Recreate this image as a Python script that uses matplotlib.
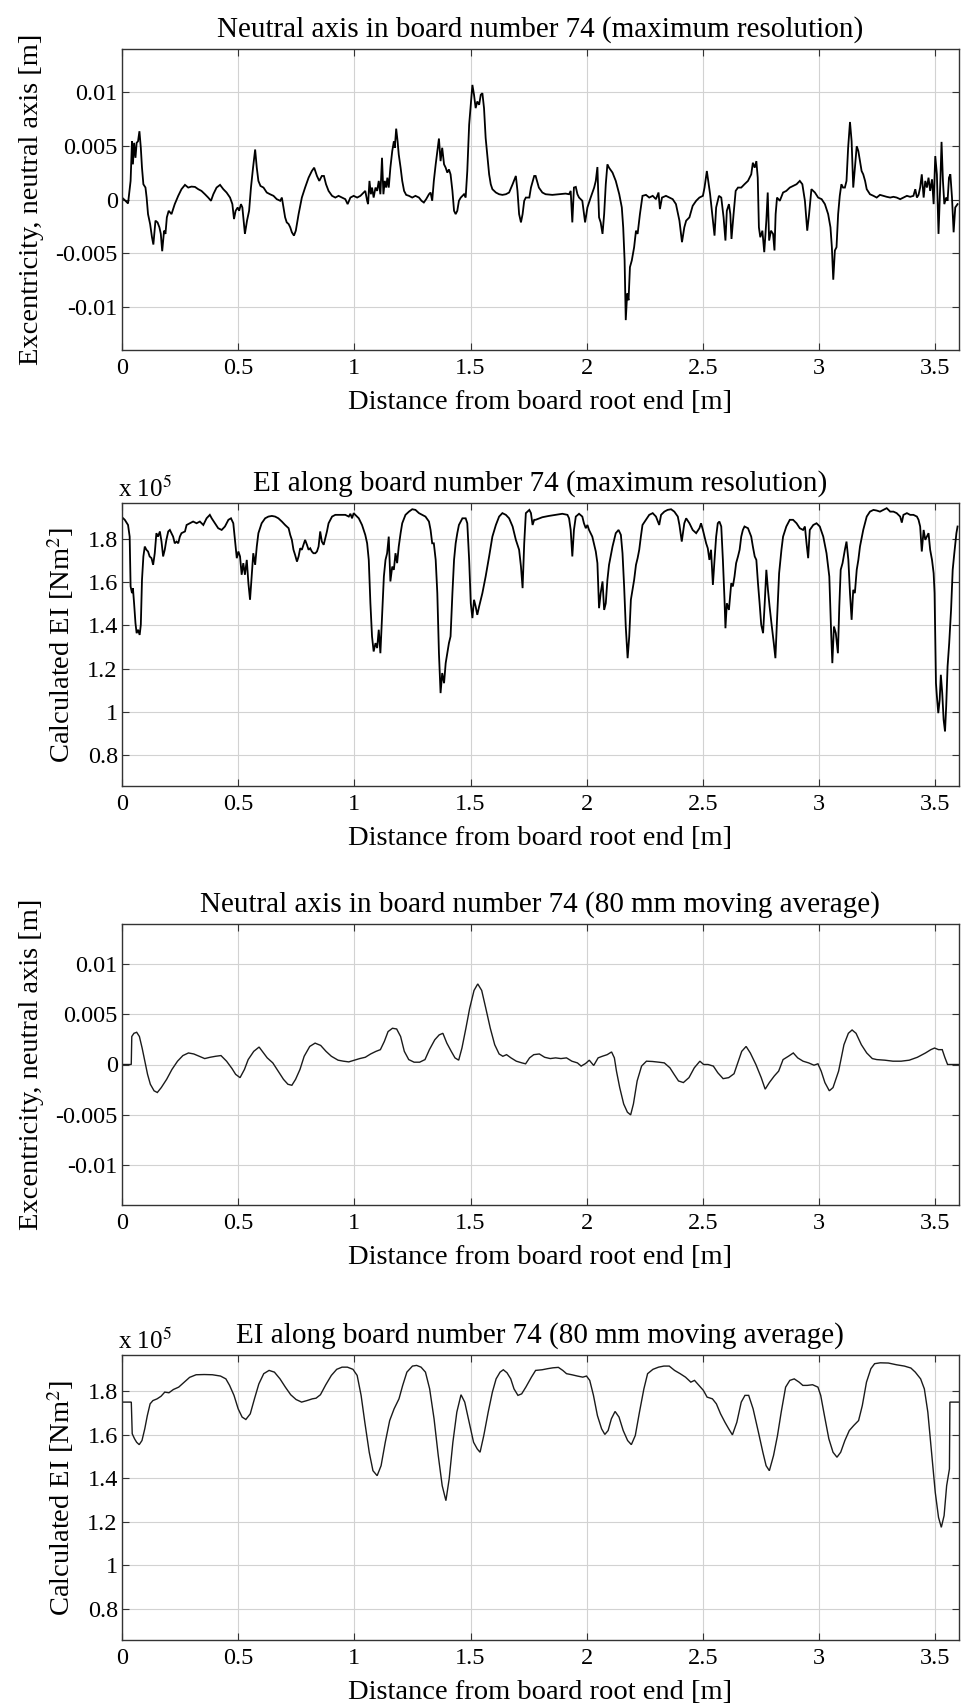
import numpy as np
import matplotlib
matplotlib.use('Agg')
import matplotlib.pyplot as plt
from matplotlib.ticker import FuncFormatter

plt.rcParams['font.family'] = ['Liberation Serif', 'DejaVu Serif']
plt.rcParams['mathtext.fontset'] = 'stix'
plt.rcParams['axes.unicode_minus'] = False

# ---------------- Panel 1: neutral axis, maximum resolution (x in m, eccentricity in mm)
ecc_max_x = [0.000, 0.012, 0.026, 0.037, 0.043, 0.047, 0.052, 0.058, 0.063, 0.069, 0.075, 0.081, 0.086, 0.092, 0.101, 0.106, 0.112, 0.121, 0.129, 0.135, 0.144, 0.153, 0.161, 0.167, 0.173, 0.181, 0.187, 0.193, 0.201, 0.213, 0.227, 0.242, 0.256, 0.271, 0.285, 0.299, 0.314, 0.328, 0.342, 0.357, 0.371, 0.383, 0.393, 0.407, 0.422, 0.436, 0.450, 0.465, 0.475, 0.482, 0.489, 0.498, 0.504, 0.512, 0.518, 0.524, 0.529, 0.538, 0.547, 0.555, 0.564, 0.573, 0.580, 0.587, 0.596, 0.609, 0.623, 0.637, 0.652, 0.666, 0.681, 0.688, 0.695, 0.702, 0.709, 0.717, 0.724, 0.731, 0.740, 0.748, 0.760, 0.774, 0.788, 0.803, 0.817, 0.827, 0.839, 0.849, 0.860, 0.869, 0.878, 0.889, 0.904, 0.918, 0.932, 0.947, 0.961, 0.971, 0.983, 0.997, 1.012, 1.026, 1.040, 1.047, 1.055, 1.059, 1.065, 1.071, 1.076, 1.083, 1.091, 1.098, 1.105, 1.112, 1.119, 1.125, 1.131, 1.137, 1.142, 1.148, 1.155, 1.163, 1.170, 1.174, 1.180, 1.186, 1.191, 1.199, 1.206, 1.214, 1.223, 1.235, 1.249, 1.263, 1.278, 1.289, 1.299, 1.309, 1.321, 1.328, 1.335, 1.342, 1.350, 1.357, 1.364, 1.371, 1.378, 1.386, 1.393, 1.400, 1.407, 1.414, 1.422, 1.429, 1.436, 1.443, 1.450, 1.458, 1.465, 1.472, 1.479, 1.486, 1.494, 1.501, 1.508, 1.515, 1.522, 1.529, 1.537, 1.544, 1.551, 1.558, 1.565, 1.573, 1.580, 1.587, 1.594, 1.609, 1.623, 1.637, 1.652, 1.666, 1.681, 1.695, 1.702, 1.709, 1.717, 1.724, 1.731, 1.738, 1.753, 1.760, 1.774,
             1.780, 1.794, 1.809, 1.823, 1.852, 1.881, 1.909, 1.924, 1.931, 1.938, 1.945, 1.953, 1.960, 1.967, 1.981, 1.993, 2.003, 2.017, 2.032, 2.039, 2.046, 2.053, 2.060, 2.068, 2.075, 2.082, 2.089, 2.096, 2.111, 2.125, 2.140, 2.151, 2.157, 2.163, 2.168, 2.174, 2.180, 2.186, 2.194, 2.204, 2.212, 2.219, 2.229, 2.240, 2.255, 2.269, 2.284, 2.298, 2.309, 2.315, 2.324, 2.341, 2.356, 2.370, 2.384, 2.399, 2.410, 2.420, 2.428, 2.442, 2.456, 2.471, 2.485, 2.500, 2.507, 2.517, 2.525, 2.531, 2.540, 2.550, 2.557, 2.569, 2.579, 2.589, 2.597, 2.603, 2.612, 2.618, 2.623, 2.632, 2.641, 2.651, 2.665, 2.679, 2.694, 2.708, 2.715, 2.723, 2.730, 2.736, 2.741, 2.747, 2.756, 2.764, 2.773, 2.779, 2.785, 2.793, 2.802, 2.808, 2.813, 2.819, 2.831, 2.845, 2.859, 2.874, 2.888, 2.903, 2.917, 2.928, 2.939, 2.949, 2.957, 2.967, 2.982, 2.996, 3.011, 3.025, 3.039, 3.049, 3.055, 3.061, 3.068, 3.075, 3.082, 3.089, 3.096, 3.103, 3.111, 3.118, 3.125, 3.133, 3.140, 3.147, 3.154, 3.162, 3.169, 3.176, 3.183, 3.190, 3.198, 3.205, 3.219, 3.234, 3.248, 3.262, 3.277, 3.291, 3.306, 3.320, 3.334, 3.349, 3.363, 3.378, 3.392, 3.406, 3.414, 3.421, 3.428, 3.435, 3.442, 3.450, 3.457, 3.464, 3.471, 3.478, 3.486, 3.493, 3.500, 3.507, 3.514, 3.522, 3.527, 3.533, 3.539, 3.547, 3.553, 3.559, 3.565, 3.572, 3.579, 3.586, 3.596]
ecc_max_mm = [0.18, -0.06, -0.37, 1.73, 5.42, 3.27, 5.27, 3.88, 5.27, 5.42, 6.35, 4.81, 2.96, 1.42, 1.11, 0.18, -1.36, -2.28, -3.51, -4.19, -1.97, -2.13, -2.59, -3.20, -4.81, -2.90, -3.20, -1.66, -1.05, -1.36, -0.43, 0.34, 0.96, 1.36, 1.11, 1.20, 1.17, 0.96, 0.80, 0.49, 0.18, -0.12, 0.49, 1.11, 1.36, 0.96, 0.65, 0.18, -0.43, -1.82, -1.05, -0.74, -1.05, -0.43, -0.74, -2.13, -3.20, -1.97, -1.05, 1.11, 2.96, 4.65, 2.96, 1.73, 1.26, 1.11, 0.65, 0.49, 0.34, 0.03, -0.12, 0.18, -0.74, -1.66, -2.13, -2.28, -2.59, -3.05, -3.36, -2.90, -1.36, 0.18, 1.11, 2.03, 2.65, 2.96, 2.19, 1.73, 2.19, 2.19, 1.42, 0.80, 0.34, 0.18, 0.34, 0.18, 0.03, -0.43, 0.18, 0.34, 0.18, 0.34, 0.65, 0.80, -0.12, -0.43, 1.73, 0.49, 1.11, 0.18, 1.11, 0.80, 1.73, 0.49, 3.88, 0.49, 1.73, 1.11, 2.03, 1.11, 2.96, 4.50, 5.42, 4.81, 6.59, 5.42, 4.19, 2.96, 1.73, 0.80, 0.43, 0.34, 0.18, 0.34, 0.18, -0.12, -0.28, 0.03, 0.49, 0.65, -0.12, 1.73, 3.27, 4.50, 5.67, 3.57, 4.81, 3.27, 2.96, 2.50, 2.80, 2.34, 0.80, -1.05, -1.36, -1.05, -0.12, 0.18, 0.34, 0.49, 0.18, 2.65, 6.96, 8.81, 10.66, 9.74, 8.50, 9.12, 8.81, 9.74, 9.89, 8.50, 5.73, 3.88, 2.34, 1.42, 0.96, 0.65, 0.49, 0.43, 0.49, 0.65, 1.42, 2.19, 0.80, -1.36, -2.13, -1.36, -0.12, 0.18, 0.18, 1.11, 2.19,
              2.19, 1.11, 0.65, 0.49, 0.43, 0.49, 0.55, 0.49, 0.80, -2.13, 1.11, 1.17, 0.49, 0.18, -0.12, -2.13, -0.74, 0.18, 1.11, 1.73, 3.02, -1.66, -2.13, -3.20, -1.36, 1.42, 3.27, 2.96, 2.50, 1.73, 0.49, -0.74, -2.59, -5.67, -11.22, -8.75, -9.37, -6.29, -5.67, -4.44, -2.90, -3.20, -1.36, 0.34, 0.43, 0.18, 0.34, 0.03, 0.65, -0.89, 0.18, 0.34, 0.18, 0.03, -0.43, -1.97, -3.97, -2.59, -1.97, -1.66, -0.59, -0.12, 0.18, 0.34, 1.11, 2.65, 1.42, 0.49, -1.36, -3.36, -0.74, 0.34, 0.18, -1.66, -3.82, -1.05, -0.43, -1.36, -3.67, -1.36, 0.80, 1.11, 1.11, 1.42, 1.73, 2.34, 3.42, 2.96, 3.57, 2.03, -2.59, -3.51, -2.90, -4.90, -1.97, 0.65, -3.82, -2.90, -3.20, -4.74, -1.36, 0.18, -0.12, 0.65, 0.80, 1.11, 1.26, 1.42, 1.73, 1.42, -0.12, -2.90, -1.36, 0.96, 0.65, 0.18, 0.03, -0.43, -1.36, -2.59, -4.44, -7.46, -4.74, -4.44, -1.36, 0.34, 1.42, 1.11, 1.11, 1.73, 4.81, 7.21, 5.42, 1.11, 2.96, 4.96, 4.50, 3.57, 2.65, 2.34, 1.73, 0.96, 0.49, 0.34, 0.18, 0.43, 0.34, 0.25, 0.18, 0.25, 0.18, 0.03, 0.18, 0.34, 0.25, 0.34, 0.96, 0.18, 0.43, 1.11, 2.34, 0.18, 1.73, 1.11, 2.03, 0.80, 1.88, -0.43, 4.04, 2.34, -3.20, 1.73, 5.36, 1.73, -0.43, 0.18, -0.12, 2.03, 2.34, 0.18, -3.05, -0.74, -0.43]

# ---------------- Panel 2: EI, maximum resolution (EI in units of 1e5 Nm^2)
ei_max_x = [0.000, 0.012, 0.026, 0.033, 0.037, 0.043, 0.047, 0.052, 0.058, 0.063, 0.069, 0.076, 0.081, 0.086, 0.092, 0.098, 0.105, 0.112, 0.119, 0.127, 0.134, 0.141, 0.148, 0.155, 0.163, 0.170, 0.177, 0.184, 0.191, 0.199, 0.206, 0.213, 0.220, 0.227, 0.235, 0.242, 0.249, 0.256, 0.271, 0.278, 0.292, 0.306, 0.321, 0.335, 0.350, 0.364, 0.378, 0.386, 0.400, 0.414, 0.429, 0.443, 0.458, 0.469, 0.479, 0.486, 0.494, 0.501, 0.508, 0.515, 0.522, 0.529, 0.537, 0.544, 0.551, 0.558, 0.565, 0.573, 0.580, 0.587, 0.601, 0.616, 0.630, 0.645, 0.659, 0.673, 0.688, 0.702, 0.717, 0.724, 0.731, 0.738, 0.745, 0.753, 0.760, 0.767, 0.774, 0.781, 0.788, 0.796, 0.803, 0.810, 0.817, 0.824, 0.832, 0.839, 0.846, 0.853, 0.860, 0.868, 0.875, 0.882, 0.889, 0.904, 0.918, 0.932, 0.947, 0.961, 0.976, 0.983, 0.990, 0.997, 1.004, 1.019, 1.033, 1.047, 1.055, 1.062, 1.069, 1.076, 1.083, 1.091, 1.098, 1.105, 1.112, 1.119, 1.127, 1.134, 1.141, 1.148, 1.155, 1.163, 1.170, 1.177, 1.184, 1.191, 1.199, 1.206, 1.220, 1.235, 1.249, 1.263, 1.278, 1.292, 1.306, 1.321, 1.328, 1.335, 1.342, 1.350, 1.357, 1.364, 1.371, 1.378, 1.386, 1.393, 1.400, 1.407, 1.414, 1.422, 1.429, 1.436, 1.443, 1.450, 1.465, 1.479, 1.486, 1.494, 1.501, 1.508, 1.515, 1.522, 1.529, 1.537, 1.551, 1.565, 1.580, 1.594, 1.609, 1.623, 1.637, 1.652, 1.666, 1.681, 1.695, 1.709, 1.717, 1.724, 1.731, 1.738, 1.753, 1.760, 1.767, 1.774,
            1.780, 1.809, 1.837, 1.866, 1.895, 1.917, 1.924, 1.931, 1.938, 1.945, 1.953, 1.967, 1.981, 1.988, 1.996, 2.003, 2.010, 2.024, 2.039, 2.046, 2.053, 2.060, 2.068, 2.075, 2.082, 2.089, 2.096, 2.111, 2.125, 2.137, 2.147, 2.154, 2.161, 2.168, 2.176, 2.183, 2.190, 2.197, 2.204, 2.212, 2.219, 2.226, 2.233, 2.240, 2.255, 2.269, 2.284, 2.298, 2.312, 2.320, 2.334, 2.348, 2.363, 2.377, 2.392, 2.399, 2.409, 2.420, 2.428, 2.442, 2.456, 2.471, 2.485, 2.492, 2.500, 2.507, 2.514, 2.521, 2.528, 2.535, 2.543, 2.550, 2.557, 2.564, 2.571, 2.579, 2.586, 2.593, 2.597, 2.603, 2.612, 2.622, 2.629, 2.636, 2.643, 2.651, 2.658, 2.665, 2.672, 2.679, 2.694, 2.708, 2.715, 2.723, 2.730, 2.737, 2.744, 2.751, 2.759, 2.766, 2.773, 2.780, 2.787, 2.795, 2.805, 2.812, 2.819, 2.828, 2.838, 2.845, 2.859, 2.874, 2.888, 2.903, 2.917, 2.931, 2.939, 2.946, 2.953, 2.960, 2.975, 2.989, 3.003, 3.018, 3.032, 3.044, 3.052, 3.057, 3.064, 3.072, 3.081, 3.087, 3.093, 3.101, 3.111, 3.118, 3.126, 3.133, 3.140, 3.147, 3.154, 3.162, 3.169, 3.176, 3.190, 3.205, 3.219, 3.234, 3.248, 3.262, 3.277, 3.291, 3.306, 3.320, 3.334, 3.349, 3.356, 3.363, 3.378, 3.392, 3.406, 3.421, 3.428, 3.435, 3.442, 3.450, 3.457, 3.464, 3.471, 3.478, 3.486, 3.493, 3.497, 3.503, 3.507, 3.513, 3.519, 3.524, 3.530, 3.536, 3.542, 3.547, 3.553, 3.560, 3.568, 3.575, 3.582, 3.591, 3.596]
ei_max_e5 = [1.902, 1.890, 1.866, 1.812, 1.581, 1.550, 1.573, 1.503, 1.410, 1.364, 1.380, 1.356, 1.403, 1.611, 1.720, 1.766, 1.751, 1.743, 1.720, 1.712, 1.681, 1.735, 1.828, 1.812, 1.836, 1.789, 1.720, 1.751, 1.797, 1.836, 1.843, 1.828, 1.812, 1.781, 1.789, 1.781, 1.812, 1.828, 1.836, 1.866, 1.874, 1.882, 1.874, 1.882, 1.866, 1.897, 1.913, 1.897, 1.874, 1.851, 1.843, 1.859, 1.890, 1.897, 1.874, 1.797, 1.712, 1.743, 1.720, 1.635, 1.689, 1.635, 1.704, 1.596, 1.519, 1.627, 1.735, 1.681, 1.766, 1.828, 1.874, 1.897, 1.905, 1.908, 1.905, 1.897, 1.882, 1.866, 1.851, 1.820, 1.797, 1.751, 1.727, 1.696, 1.720, 1.758, 1.751, 1.774, 1.797, 1.774, 1.751, 1.758, 1.743, 1.735, 1.735, 1.743, 1.766, 1.836, 1.789, 1.774, 1.805, 1.836, 1.874, 1.905, 1.913, 1.913, 1.913, 1.913, 1.905, 1.918, 1.897, 1.921, 1.913, 1.897, 1.866, 1.820, 1.781, 1.704, 1.503, 1.349, 1.279, 1.318, 1.295, 1.380, 1.271, 1.441, 1.627, 1.704, 1.735, 1.812, 1.604, 1.673, 1.658, 1.735, 1.689, 1.766, 1.828, 1.874, 1.913, 1.928, 1.939, 1.936, 1.921, 1.913, 1.905, 1.882, 1.843, 1.781, 1.781, 1.704, 1.550, 1.271, 1.086, 1.179, 1.132, 1.225, 1.271, 1.318, 1.349, 1.550, 1.704, 1.781, 1.828, 1.866, 1.897, 1.897, 1.874, 1.704, 1.503, 1.434, 1.519, 1.488, 1.449, 1.488, 1.550, 1.627, 1.720, 1.812, 1.866, 1.905, 1.921, 1.913, 1.897, 1.859, 1.797, 1.751, 1.673, 1.573, 1.781, 1.921, 1.936, 1.921, 1.866, 1.890,
             1.890, 1.902, 1.908, 1.913, 1.918, 1.913, 1.897, 1.843, 1.720, 1.843, 1.905, 1.918, 1.905, 1.874, 1.851, 1.866, 1.843, 1.812, 1.743, 1.689, 1.480, 1.550, 1.604, 1.472, 1.503, 1.611, 1.681, 1.766, 1.828, 1.843, 1.820, 1.735, 1.581, 1.395, 1.248, 1.349, 1.519, 1.565, 1.611, 1.681, 1.712, 1.751, 1.812, 1.866, 1.890, 1.913, 1.921, 1.905, 1.866, 1.913, 1.928, 1.936, 1.939, 1.928, 1.905, 1.866, 1.789, 1.874, 1.897, 1.874, 1.843, 1.828, 1.851, 1.874, 1.843, 1.812, 1.781, 1.758, 1.704, 1.751, 1.588, 1.704, 1.812, 1.874, 1.882, 1.859, 1.704, 1.519, 1.387, 1.503, 1.472, 1.596, 1.581, 1.627, 1.689, 1.720, 1.751, 1.812, 1.843, 1.859, 1.851, 1.812, 1.766, 1.720, 1.704, 1.596, 1.503, 1.403, 1.364, 1.503, 1.658, 1.565, 1.488, 1.410, 1.318, 1.248, 1.426, 1.642, 1.751, 1.812, 1.859, 1.890, 1.890, 1.874, 1.851, 1.843, 1.859, 1.781, 1.712, 1.843, 1.866, 1.874, 1.859, 1.812, 1.735, 1.627, 1.364, 1.225, 1.395, 1.364, 1.271, 1.488, 1.658, 1.689, 1.751, 1.789, 1.704, 1.550, 1.426, 1.565, 1.550, 1.658, 1.704, 1.766, 1.843, 1.905, 1.928, 1.936, 1.933, 1.928, 1.936, 1.944, 1.928, 1.928, 1.921, 1.905, 1.877, 1.913, 1.921, 1.913, 1.913, 1.905, 1.890, 1.859, 1.743, 1.843, 1.797, 1.812, 1.828, 1.751, 1.704, 1.642, 1.550, 1.132, 1.071, 0.993, 1.055, 1.171, 1.086, 0.962, 0.908, 1.024, 1.210, 1.318, 1.472, 1.658, 1.735, 1.828, 1.859]

# ---------------- Panel 3: neutral axis, 80 mm moving average (mm)
ecc_avg_x = [0.0, 0.0398, 0.0421, 0.0515, 0.0632, 0.0749, 0.0866, 0.0983, 0.110, 0.122, 0.138, 0.152, 0.169, 0.192, 0.215, 0.239, 0.262, 0.286, 0.309, 0.332, 0.356, 0.379, 0.403, 0.426, 0.450, 0.473, 0.489, 0.508, 0.527, 0.543, 0.567, 0.590, 0.606, 0.625, 0.649, 0.672, 0.695, 0.714, 0.731, 0.747, 0.766, 0.784, 0.808, 0.831, 0.855, 0.878, 0.901, 0.930, 0.953, 0.976, 1.000, 1.023, 1.047, 1.070, 1.093, 1.112, 1.129, 1.145, 1.164, 1.182, 1.199, 1.215, 1.234, 1.257, 1.281, 1.304, 1.323, 1.346, 1.365, 1.381, 1.398, 1.417, 1.433, 1.449, 1.463, 1.480, 1.496, 1.515, 1.531, 1.548, 1.566, 1.585, 1.604, 1.623, 1.639, 1.655, 1.674, 1.697, 1.721, 1.737, 1.754, 1.772, 1.796, 1.819, 1.843, 1.866, 1.889, 1.913, 1.936, 1.960, 1.976, 1.995, 2.011, 2.030, 2.049, 2.067, 2.088, 2.107, 2.119, 2.128, 2.142, 2.159, 2.175, 2.189, 2.201, 2.217, 2.236, 2.257, 2.283, 2.311, 2.334, 2.358, 2.376, 2.395, 2.416, 2.440, 2.463, 2.487, 2.503, 2.522, 2.545, 2.564, 2.587, 2.611, 2.634, 2.650, 2.667, 2.686, 2.704, 2.728, 2.751, 2.768, 2.786, 2.807, 2.826, 2.845, 2.868, 2.889, 2.908, 2.931, 2.955, 2.978, 2.995, 3.009, 3.025, 3.044, 3.060, 3.084, 3.107, 3.126, 3.142, 3.159, 3.182, 3.205, 3.229, 3.248, 3.283, 3.318, 3.353, 3.388, 3.423, 3.458, 3.481, 3.497, 3.514, 3.530, 3.541, 3.553, 3.600]
ecc_avg_mm = [0.0, 0.0, 2.79, 3.11, 3.21, 2.79, 1.64, 0.33, -0.98, -1.97, -2.62, -2.79, -2.30, -1.48, -0.49, 0.33, 0.89, 1.15, 1.05, 0.82, 0.59, 0.72, 0.82, 0.89, 0.33, -0.39, -0.98, -1.31, -0.49, 0.49, 1.31, 1.74, 1.25, 0.66, 0.16, -0.66, -1.48, -1.97, -2.07, -1.48, -0.49, 0.82, 1.80, 2.13, 1.90, 1.31, 0.82, 0.43, 0.33, 0.26, 0.43, 0.59, 0.72, 1.05, 1.31, 1.48, 2.30, 3.28, 3.61, 3.54, 2.79, 1.31, 0.49, 0.23, 0.23, 0.49, 1.48, 2.46, 2.95, 3.11, 2.13, 1.31, 0.66, 0.43, 1.64, 3.61, 5.57, 7.38, 8.03, 7.38, 5.57, 3.61, 1.97, 1.05, 0.82, 0.98, 0.66, 0.33, 0.16, 0.07, 0.66, 0.98, 1.05, 0.72, 0.59, 0.66, 0.59, 0.66, 0.33, 0.16, -0.16, 0.10, 0.43, -0.10, 0.66, 0.82, 0.98, 1.25, 0.66, -0.66, -2.30, -3.93, -4.75, -5.02, -3.93, -1.64, -0.16, 0.33, 0.30, 0.23, 0.16, -0.33, -0.98, -1.64, -1.80, -1.31, -0.33, 0.33, 0.0, 0.0, -0.16, -0.82, -1.41, -1.31, -0.92, 0.16, 1.31, 1.80, 1.15, 0.0, -1.31, -2.46, -1.80, -1.15, -0.66, 0.49, 0.82, 1.15, 0.66, 0.33, 0.16, -0.07, 0.07, -0.66, -1.80, -2.62, -2.30, -0.66, 1.97, 3.11, 3.44, 3.11, 1.97, 1.15, 0.59, 0.49, 0.43, 0.33, 0.33, 0.43, 0.72, 1.15, 1.48, 1.64, 1.48, 1.48, 0.72, 0.0, 0.0]

# ---------------- Panel 4: EI, 80 mm moving average (1e5 Nm^2)
ei_avg_x = [0.0, 0.040, 0.044, 0.054, 0.063, 0.074, 0.086, 0.098, 0.109, 0.121, 0.133, 0.151, 0.168, 0.184, 0.202, 0.221, 0.244, 0.268, 0.291, 0.319, 0.354, 0.389, 0.424, 0.447, 0.463, 0.482, 0.500, 0.517, 0.533, 0.552, 0.570, 0.589, 0.610, 0.633, 0.656, 0.680, 0.703, 0.726, 0.749, 0.773, 0.796, 0.819, 0.835, 0.854, 0.877, 0.901, 0.924, 0.947, 0.970, 0.994, 1.012, 1.029, 1.045, 1.064, 1.080, 1.098, 1.115, 1.133, 1.152, 1.171, 1.192, 1.208, 1.226, 1.250, 1.268, 1.287, 1.306, 1.324, 1.343, 1.361, 1.378, 1.394, 1.408, 1.424, 1.441, 1.459, 1.475, 1.494, 1.513, 1.529, 1.541, 1.557, 1.576, 1.594, 1.610, 1.627, 1.641, 1.657, 1.673, 1.687, 1.704, 1.720, 1.738, 1.762, 1.780, 1.808, 1.832, 1.855, 1.878, 1.897, 1.913, 1.936, 1.960, 1.983, 1.999, 2.013, 2.029, 2.046, 2.064, 2.078, 2.092, 2.106, 2.122, 2.139, 2.157, 2.176, 2.192, 2.209, 2.227, 2.246, 2.262, 2.285, 2.309, 2.332, 2.355, 2.378, 2.402, 2.425, 2.448, 2.464, 2.483, 2.502, 2.518, 2.541, 2.558, 2.576, 2.595, 2.611, 2.627, 2.646, 2.665, 2.681, 2.697, 2.716, 2.739, 2.758, 2.772, 2.786, 2.804, 2.821, 2.837, 2.856, 2.874, 2.893, 2.914, 2.930, 2.949, 2.972, 2.995, 3.007, 3.023, 3.042, 3.060, 3.077, 3.093, 3.111, 3.130, 3.149, 3.170, 3.186, 3.204, 3.223, 3.239, 3.263, 3.298, 3.333, 3.367, 3.395, 3.414, 3.437, 3.453, 3.468, 3.484, 3.500, 3.514, 3.526, 3.538, 3.549, 3.561, 3.563, 3.600]
ei_avg_e5 = [1.751, 1.751, 1.605, 1.582, 1.566, 1.555, 1.574, 1.628, 1.689, 1.743, 1.758, 1.766, 1.778, 1.797, 1.794, 1.809, 1.820, 1.843, 1.865, 1.877, 1.878, 1.877, 1.871, 1.858, 1.828, 1.782, 1.720, 1.682, 1.671, 1.697, 1.766, 1.835, 1.882, 1.897, 1.889, 1.858, 1.820, 1.785, 1.763, 1.751, 1.758, 1.766, 1.769, 1.785, 1.831, 1.874, 1.902, 1.912, 1.912, 1.902, 1.874, 1.782, 1.658, 1.520, 1.435, 1.412, 1.458, 1.566, 1.666, 1.720, 1.766, 1.828, 1.889, 1.917, 1.920, 1.912, 1.889, 1.812, 1.674, 1.505, 1.366, 1.297, 1.397, 1.566, 1.705, 1.785, 1.751, 1.658, 1.566, 1.535, 1.520, 1.597, 1.705, 1.797, 1.858, 1.889, 1.900, 1.886, 1.858, 1.812, 1.782, 1.789, 1.820, 1.866, 1.897, 1.900, 1.905, 1.909, 1.911, 1.897, 1.882, 1.877, 1.871, 1.866, 1.871, 1.851, 1.782, 1.689, 1.628, 1.602, 1.620, 1.674, 1.708, 1.682, 1.620, 1.574, 1.555, 1.597, 1.705, 1.812, 1.882, 1.902, 1.912, 1.917, 1.917, 1.897, 1.882, 1.866, 1.843, 1.851, 1.828, 1.805, 1.774, 1.766, 1.743, 1.697, 1.658, 1.628, 1.600, 1.658, 1.751, 1.782, 1.782, 1.720, 1.612, 1.520, 1.458, 1.435, 1.505, 1.597, 1.705, 1.820, 1.851, 1.858, 1.843, 1.828, 1.828, 1.831, 1.820, 1.782, 1.689, 1.582, 1.520, 1.497, 1.520, 1.574, 1.620, 1.643, 1.666, 1.735, 1.843, 1.905, 1.928, 1.932, 1.931, 1.923, 1.917, 1.908, 1.889, 1.858, 1.812, 1.705, 1.520, 1.335, 1.220, 1.174, 1.228, 1.366, 1.443, 1.751, 1.751]

titles = ["Neutral axis in board number 74 (maximum resolution)",
          "EI along board number 74 (maximum resolution)",
          "Neutral axis in board number 74 (80 mm moving average)",
          "EI along board number 74 (80 mm moving average)"]
xlabel = "Distance from board root end [m]"
ylabel_ecc = "Excentricity, neutral axis [m]"
ylabel_ei = "Calculated EI [Nm$^2$]"
x_ticks = [0, 0.5, 1, 1.5, 2, 2.5, 3, 3.5]
ecc_ticks = [-0.01, -0.005, 0, 0.005, 0.01]
ei_ticks = [0.8, 1.0, 1.2, 1.4, 1.6, 1.8]

W_PX, H_PX = 961, 1707
fig = plt.figure(figsize=(W_PX / 100, H_PX / 100), dpi=100)
left, right = 122, 958.5
boxes = [(49, 350), (503, 786), (924, 1205), (1355, 1640)]

fmt = FuncFormatter(lambda v, p: f"{v:g}")
series = [
    (ecc_max_x, np.array(ecc_max_mm) / 1000.0, 'ecc', 1.3, 'black'),
    (ei_max_x, ei_max_e5, 'ei', 1.3, 'black'),
    (ecc_avg_x, np.array(ecc_avg_mm) / 1000.0, 'ecc', 1.0, '#1a1a1a'),
    (ei_avg_x, ei_avg_e5, 'ei', 1.0, '#1a1a1a'),
]

for i, ((top, bot), (xs, ys, kind, lw, col)) in enumerate(zip(boxes, series)):
    ax = fig.add_axes([left / W_PX, 1 - bot / H_PX, (right - left) / W_PX, (bot - top) / H_PX])
    ax.plot(xs, ys, color=col, lw=lw, solid_joinstyle='miter')
    ax.set_xlim(0, 3.6)
    ax.set_xticks(x_ticks)
    if kind == 'ecc':
        ax.set_ylim(-0.014, 0.014)
        ax.set_yticks(ecc_ticks)
        ax.set_ylabel(ylabel_ecc, fontsize=20.5, labelpad=8)
    else:
        ax.set_ylim(0.655, 1.968)
        ax.set_yticks(ei_ticks)
        ax.set_ylabel(ylabel_ei, fontsize=20.5, labelpad=8)
        ax.annotate("x 10$^{5}$", xy=(0, 1), xycoords='axes fraction',
                    xytext=(-3, 4), textcoords='offset points',
                    fontsize=18, ha='left', va='baseline')
    ax.xaxis.set_major_formatter(fmt)
    ax.yaxis.set_major_formatter(fmt)
    ax.grid(True, color='#d2d2d2', lw=0.8)
    ax.set_axisbelow(True)
    ax.tick_params(direction='in', length=5, width=0.8, top=True, right=True,
                   labelsize=17.5, color='#333333')
    ax.tick_params(axis='x', pad=6)
    ax.tick_params(axis='y', pad=3)
    for sp in ax.spines.values():
        sp.set_linewidth(1.0)
        sp.set_color('#333333')
    ax.set_title(titles[i], fontsize=21, pad=9)
    ax.set_xlabel(xlabel, fontsize=20.5, labelpad=8)

fig.savefig("out.png", dpi=100)
